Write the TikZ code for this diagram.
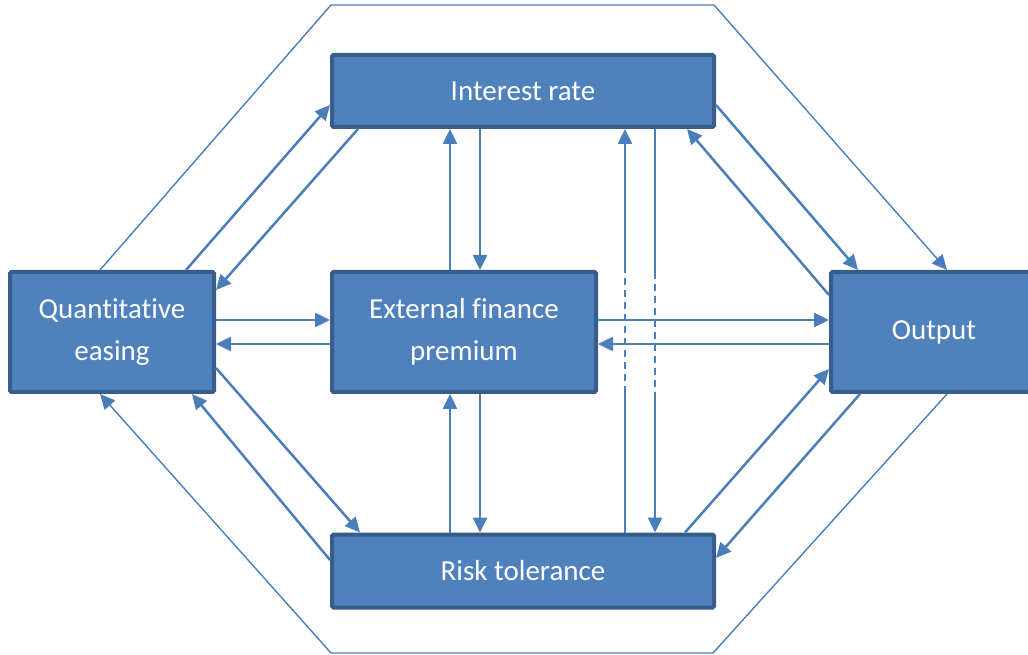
\documentclass[tikz,border=0pt]{standalone}
\usepackage{fontspec}
\setmainfont{Carlito}[RawFeature = {-liga;-clig;-calt;-dlig}]
\usetikzlibrary{arrows.meta}
\usetikzlibrary{positioning}
\definecolor{boxfill}{HTML}{4F81BD}
\definecolor{boxline}{HTML}{385D8A}
\definecolor{linkline}{HTML}{4A7EBB}
\tikzset {
  % blue boxes of the model
  block/.style = {
    draw = boxline,
    fill = boxfill,
    line width = 4pt,
    rounded corners = 1.5pt,
    text = white,
    align = center,
    inner sep = 0pt,
    font = \fontsize{29pt}{42pt}\selectfont
  },
  % connector without a head
  wire/.style = {
    draw = linkline,
    line width = 2.5pt
  },
  % connector with a head
  link/.style = {
    wire,
    -{Triangle[length = 15pt, width = 14pt]}
  },
  % thin outer loop
  ring/.style = {
    draw = linkline,
    line width = 1.4pt
  },
  ring link/.style = {
    ring,
    -{Triangle[length = 15pt, width = 14pt]}
  },
  gap/.style = {
    dash pattern = on 7pt off 5pt
  }
}

\begin{document}
\begin{tikzpicture}[x = 1pt, y = 1pt]
    \clip (0,0) rectangle (1028,654);

    \node[block, minimum width = 382pt, minimum height = 72pt] (rate) at (523,563) {Interest rate};
    \node[block, minimum width = 204pt, minimum height = 120pt] (qe) at (112,322) {Quantitative\\easing};
    \node[block, minimum width = 264pt, minimum height = 120pt] (efp) at (464,322) {External finance\\premium};
    \node[block, minimum width = 206pt, minimum height = 120pt] (out) at (934,322) {Output};
    \node[block, minimum width = 382pt, minimum height = 73pt] (risk) at (523,83) {Risk tolerance};

    % corners of the outer loop
    \coordinate (hex-nw) at (331,649);
    \coordinate (hex-ne) at (714,649);
    \coordinate (hex-sw) at (331,1);
    \coordinate (hex-se) at (713,1);

    % ends of the dashed pieces
    \coordinate (rise-lo) at (625,261);
    \coordinate (rise-hi) at (625,382);
    \coordinate (fall-lo) at (655,261);
    \coordinate (fall-hi) at (655,382);

    \draw[ring link] ([xshift=92pt]qe.north west) -- (hex-nw) -- (hex-ne) -- ([xshift=118pt]out.north west);
    \draw[ring link] ([xshift=118pt]out.south west) -- (hex-se) -- (hex-sw) -- ([xshift=92pt]qe.south west);

    \draw[link] ([xshift=74pt]qe.north)          -- ([yshift=-14pt]rate.west);
    \draw[link] ([xshift=28pt]rate.south west)   -- ([yshift=-20pt]qe.north east);
    \draw[link] ([yshift=-14pt]rate.east)        -- ([xshift=29pt]out.north west);
    \draw[link] ([yshift=-25pt]out.north west)   -- ([xshift=-29pt]rate.south east);
    \draw[link] ([xshift=31pt]out.south west)    -- ([yshift=13pt]risk.east);
    \draw[link] ([xshift=-31pt]risk.north east)  -- ([yshift=25pt]out.south west);
    \draw[link] ([yshift=26pt]qe.south east)     -- ([xshift=30pt]risk.north west);
    \draw[link] ([yshift=11pt]risk.west)         -- ([xshift=-24pt]qe.south east);

    \draw[link] ([xshift=120pt]efp.north west)   -- ([xshift=120pt]rate.south west);
    \draw[link] ([xshift=150pt]rate.south west)  -- ([xshift=150pt]efp.north west);
    \draw[link] ([xshift=150pt]efp.south west)   -- ([xshift=150pt]risk.north west);
    \draw[link] ([xshift=120pt]risk.north west)  -- ([xshift=120pt]efp.south west);

    \draw[link] ([yshift=12pt]qe.east)           -- ([yshift=12pt]efp.west);
    \draw[link] ([yshift=-12pt]efp.west)         -- ([yshift=-12pt]qe.east);
    \draw[link] ([yshift=12pt]efp.east)          -- ([yshift=12pt]out.west);
    \draw[link] ([yshift=-12pt]out.west)         -- ([yshift=-12pt]efp.east);

    \draw[wire]      ([xshift=295pt]risk.north west) -- (rise-lo);
    \draw[wire, gap] (rise-lo) -- (rise-hi);
    \draw[link]      (rise-hi) -- ([xshift=295pt]rate.south west);
    \draw[wire]      ([xshift=325pt]rate.south west) -- (fall-hi);
    \draw[wire, gap] (fall-hi) -- (fall-lo);
    \draw[link]      (fall-lo) -- ([xshift=325pt]risk.north west);

  \end{tikzpicture}
\end{document}
